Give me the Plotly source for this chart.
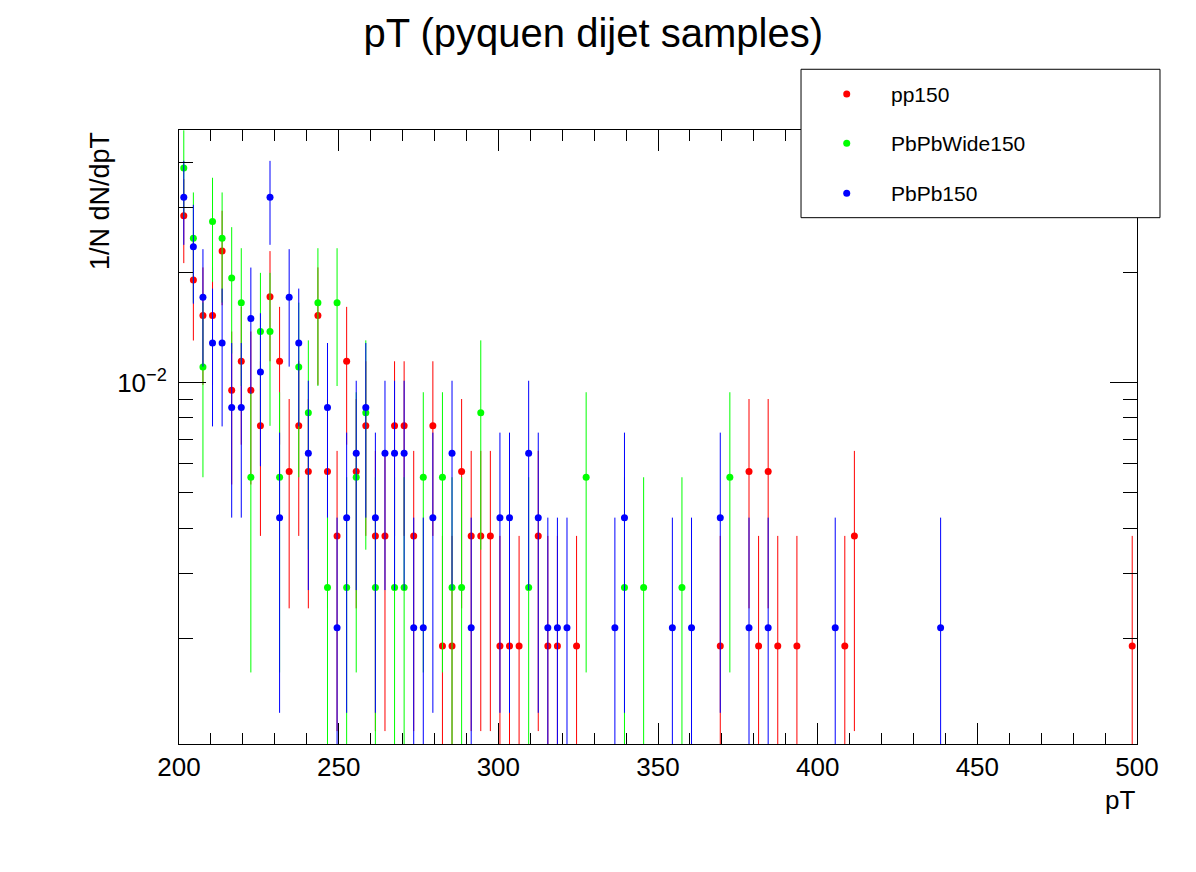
import math
import plotly.graph_objects as go

# histogram binning (pT, 3 GeV bins from 200 to 500)
pt_low = 200
pt_width = 3
n_bins = 100
pt_centers = [pt_low + pt_width * (i + 0.5) for i in range(n_bins)]

sample_names = ["pp150", "PbPbWide150", "PbPb150"]
sample_colors = ["#ff0000", "#00ff00", "#0000ff"]
n_events = [175, 121, 156]

# entries per bin
pp150_counts = [
    15, 10, 8, 8, 12, 5, 6, 5, 4, 9,
    6, 3, 4, 3, 8, 3, 2, 6, 3, 4,
    2, 2, 4, 4, 2, 0, 4, 1, 1, 3,
    2, 2, 2, 1, 1, 1, 0, 2, 1, 1,
    0, 1, 0, 0, 0, 0, 0, 0, 0, 0,
    0, 0, 0, 0, 0, 0, 1, 0, 0, 3,
    1, 3, 1, 0, 1, 0, 0, 0, 0, 1,
    2, 0, 0, 0, 0, 0, 0, 0, 0, 0,
    0, 0, 0, 0, 0, 0, 0, 0, 0, 0,
    0, 0, 0, 0, 0, 0, 0, 0, 0, 1,
]
pbpbwide150_counts = [
    14, 9, 4, 10, 9, 7, 6, 2, 5, 5,
    2, 0, 4, 3, 6, 1, 6, 1, 2, 3,
    1, 0, 1, 1, 0, 2, 0, 2, 1, 1,
    0, 3, 0, 0, 0, 0, 1, 0, 0, 0,
    0, 0, 2, 0, 0, 0, 1, 0, 1, 0,
    0, 0, 1, 0, 0, 0, 0, 2, 0, 0,
    0, 0, 0, 0, 0, 0, 0, 0, 0, 0,
    0, 0, 0, 0, 0, 0, 0, 0, 0, 0,
    0, 0, 0, 0, 0, 0, 0, 0, 0, 0,
    0, 0, 0, 0, 0, 0, 0, 0, 0, 0,
]
pbpb150_counts = [
    15, 11, 8, 6, 6, 4, 4, 7, 5, 15,
    2, 8, 6, 3, 0, 4, 1, 2, 3, 4,
    2, 3, 3, 3, 1, 1, 2, 0, 3, 0,
    1, 0, 0, 2, 2, 0, 3, 2, 1, 1,
    1, 0, 0, 0, 0, 1, 2, 0, 0, 0,
    0, 1, 0, 1, 0, 0, 2, 0, 0, 1,
    0, 1, 0, 0, 0, 0, 0, 0, 1, 0,
    0, 0, 0, 0, 0, 0, 0, 0, 0, 1,
    0, 0, 0, 0, 0, 0, 0, 0, 0, 0,
    0, 0, 0, 0, 0, 0, 0, 0, 0, 0,
]

y_major = [0.01]
y_major_text = ["10<sup>\u22122</sup>"]
y_minor = [0.002, 0.003, 0.004, 0.005, 0.006, 0.007, 0.008, 0.009, 0.02, 0.03, 0.04]

FONT = "Liberation Sans, Arial, Helvetica, sans-serif"


def make_trace(name, counts, n_ev, color):
    xs, ys, errs = [], [], []
    norm = n_ev * pt_width
    for pt, c in zip(pt_centers, counts):
        if c == 0:
            continue
        xs.append(pt)
        ys.append(c / norm)
        errs.append(math.sqrt(c) / norm)
    return go.Scatter(
        x=xs, y=ys, mode="markers", name=name, showlegend=False,
        marker=dict(color=color, size=7, line=dict(width=0)),
        error_y=dict(type="data", array=errs, color=color, thickness=1, width=0),
    )


all_counts = [pp150_counts, pbpbwide150_counts, pbpb150_counts]

fig = go.Figure()
for name, counts, n_ev, color in zip(sample_names, all_counts, n_events, sample_colors):
    fig.add_trace(make_trace(name, counts, n_ev, color))

fig.update_layout(
    width=1196, height=872,
    margin=dict(l=179, r=59, t=130, b=128, pad=0),
    paper_bgcolor="white", plot_bgcolor="white",
    font=dict(family=FONT, color="black"),
    title=dict(text="pT (pyquen dijet samples)", x=0.496, xanchor="center",
               xref="container", y=1 - 33 / 872, yanchor="middle",
               yref="container", font=dict(size=40)),
)

fig.update_xaxes(
    range=[200, 500], tick0=200, dtick=50,
    ticks="inside", ticklen=21, tickwidth=1, tickcolor="black",
    showline=True, linecolor="black", linewidth=1, mirror="ticks",
    showgrid=False, zeroline=False, tickfont=dict(size=26),
    minor=dict(tick0=200, dtick=10, ticks="inside", ticklen=11,
               tickcolor="black", tickwidth=1, showgrid=False),
)
fig.update_yaxes(
    type="log", range=[-2.9877, -1.3101],
    tickmode="array", tickvals=y_major, ticktext=y_major_text,
    ticks="inside", ticklen=27, tickwidth=1, tickcolor="black",
    showline=True, linecolor="black", linewidth=1, mirror="ticks",
    showgrid=False, zeroline=False, tickfont=dict(size=26),
    ticklabelstandoff=6,
    minor=dict(tickmode="array", tickvals=y_minor, ticks="inside", ticklen=14,
               tickcolor="black", tickwidth=1, showgrid=False),
)

# axis titles, ROOT style (aligned at the axis end)
fig.add_annotation(text="1/N dN/dpT", textangle=-90, xref="paper", yref="paper",
                   x=-0.0825, y=1.0, xanchor="center", yanchor="top",
                   showarrow=False, font=dict(size=27))
fig.add_annotation(text="pT", xref="paper", yref="paper", x=1.0, y=-0.091,
                   xanchor="right", yanchor="middle", showarrow=False,
                   font=dict(size=26))

# legend box
fig.add_shape(type="rect", xref="paper", yref="paper",
              x0=0.6493, x1=1.024, y0=0.8572, y1=1.0989,
              line=dict(color="black", width=1), fillcolor="white", layer="above")
legend_y = [1.0586, 0.9783, 0.8969]
for name, color, ly in zip(sample_names, sample_colors, legend_y):
    fig.add_shape(type="circle", xref="paper", yref="paper",
                  xsizemode="pixel", ysizemode="pixel",
                  xanchor=0.697, yanchor=ly, x0=-3.5, x1=3.5, y0=-3.5, y1=3.5,
                  line=dict(width=0), fillcolor=color, layer="above")
    fig.add_annotation(text=name, xref="paper", yref="paper", x=0.7412, y=ly,
                       xanchor="left", yanchor="middle", showarrow=False,
                       font=dict(size=21))

fig.write_html("out.html", config={"displayModeBar": False},
               post_script="document.body.style.margin='0px';")
